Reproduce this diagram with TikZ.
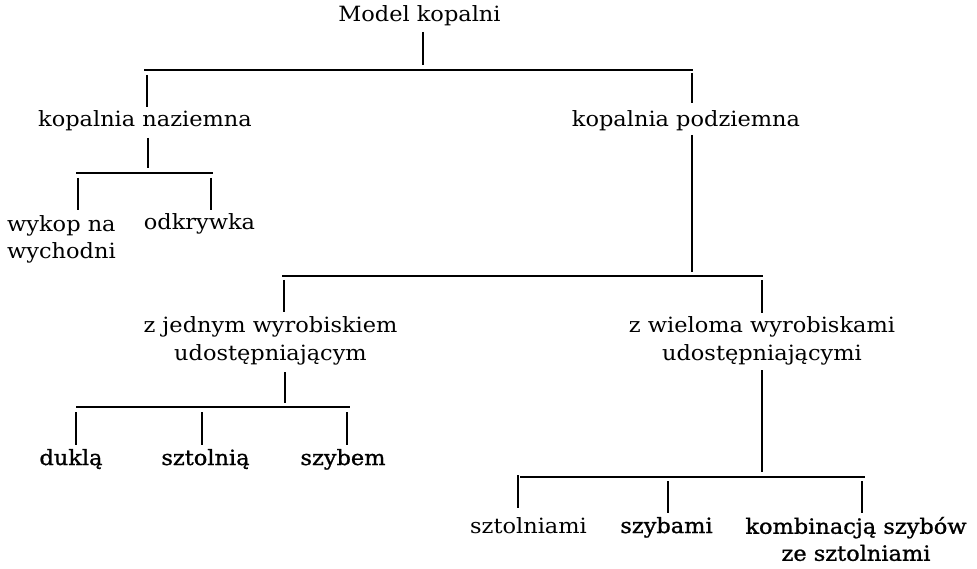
\documentclass[tikz,border=0pt]{standalone}
\usepackage{graphicx}
\usepackage{fontspec}
\setmainfont{DejaVu Serif}
\newfontfamily\heavy[FakeBold=1.0]{DejaVu Serif}
\newcommand\wide[1]{\scalebox{1.07}[1]{#1}}
\begin{document}
\begin{tikzpicture}[x=1pt,y=-1pt,
  lbl/.style={inner sep=0pt, font=\fontsize{21}{28}\selectfont},
  dark/.style={lbl, font=\fontsize{21}{28}\selectfont\heavy},
  link/.style={line width=1.7pt, line cap=butt}]
\useasboundingbox[fill=white] (0,0) rectangle (977,569);

% nodes
\node[lbl, anchor=base] (root) at (419.5,22) {\wide{Model kopalni}};
\node[lbl, anchor=base] (kn) at (145,127) {\wide{kopalnia naziemna}};
\node[lbl, anchor=base] (kp) at (686,127) {\wide{kopalnia podziemna}};
\node[lbl, anchor=west, align=left, font=\fontsize{21}{27}\selectfont] (wn) at (7,239) {\wide{wykop na}\\\wide{wychodni}};
\node[lbl, anchor=base] (od) at (199.5,230) {\wide{odkrywka}};
\node[lbl, align=center, font=\fontsize{21}{28}\selectfont] (zj) at (270.5,341) {\wide{z jednym wyrobiskiem}\\\wide{udostępniającym}};
\node[lbl, align=center, font=\fontsize{21}{28}\selectfont] (zw) at (762,341) {\wide{z wieloma wyrobiskami}\\\wide{udostępniającymi}};
\node[dark, anchor=base] (dk) at (71,465) {\wide{duklą}};
\node[dark, anchor=base] (sn) at (205.5,465) {\wide{sztolnią}};
\node[dark, anchor=base] (sb) at (343,465) {\wide{szybem}};
\node[lbl, anchor=base] (szn) at (528.5,533) {\wide{sztolniami}};
\node[dark, anchor=base] (szb) at (666.5,533) {\wide{szybami}};
\node[dark, align=center, font=\fontsize{21}{27}\selectfont\heavy] (kom) at (856,539) {\wide{kombinacją szybów}\\\wide{ze sztolniami}};

% connector points
\coordinate (r-out) at (423,32);
\coordinate (b1-mid) at (423,65);
\coordinate (b1-l) at (144,70);
\coordinate (b1-r) at (693,70);
\coordinate (kn-in0) at (147,75);
\coordinate (kn-in) at (147,107);
\coordinate (kp-in0) at (692,73);
\coordinate (kp-in) at (692,103);

\coordinate (kn-out) at (148,138);
\coordinate (b2-mid) at (148,168);
\coordinate (b2-l) at (76,173);
\coordinate (b2-r) at (213,173);
\coordinate (wn-in0) at (78,178);
\coordinate (wn-in) at (78,210);
\coordinate (od-in0) at (211,178);
\coordinate (od-in) at (211,210);

\coordinate (kp-out) at (692,135);
\coordinate (b3-mid) at (692,272);
\coordinate (b3-l) at (282,276);
\coordinate (b3-r) at (763,276);
\coordinate (zj-in0) at (284,280);
\coordinate (zj-in) at (284,312);
\coordinate (zw-in0) at (762,280);
\coordinate (zw-in) at (762,313);

\coordinate (zj-out) at (285,372);
\coordinate (b4-mid) at (285,403);
\coordinate (b4-l) at (76,407);
\coordinate (b4-r) at (350,407);
\coordinate (dk-in0) at (76,412);
\coordinate (dk-in) at (76,445);
\coordinate (sn-in0) at (202,412);
\coordinate (sn-in) at (202,445);
\coordinate (sb-in0) at (347,412);
\coordinate (sb-in) at (347,445);

\coordinate (zw-out) at (762,370);
\coordinate (b5-mid) at (762,472);
\coordinate (b5-l) at (520,477);
\coordinate (b5-r) at (865,477);
\coordinate (szn-in0) at (518,475);
\coordinate (szn-in) at (518,508);
\coordinate (szb-in0) at (668,481);
\coordinate (szb-in) at (668,513);
\coordinate (kom-in0) at (862,481);
\coordinate (kom-in) at (862,513);

% connectors
\draw[link] (r-out) -- (b1-mid);
\draw[link] (b1-l) -- (b1-r);
\draw[link] (kn-in0) -- (kn-in);
\draw[link] (kp-in0) -- (kp-in);

\draw[link] (kn-out) -- (b2-mid);
\draw[link] (b2-l) -- (b2-r);
\draw[link] (wn-in0) -- (wn-in);
\draw[link] (od-in0) -- (od-in);

\draw[link] (kp-out) -- (b3-mid);
\draw[link] (b3-l) -- (b3-r);
\draw[link] (zj-in0) -- (zj-in);
\draw[link] (zw-in0) -- (zw-in);

\draw[link] (zj-out) -- (b4-mid);
\draw[link] (b4-l) -- (b4-r);
\draw[link] (dk-in0) -- (dk-in);
\draw[link] (sn-in0) -- (sn-in);
\draw[link] (sb-in0) -- (sb-in);

\draw[link] (zw-out) -- (b5-mid);
\draw[link] (b5-l) -- (b5-r);
\draw[link] (szn-in0) -- (szn-in);
\draw[link] (szb-in0) -- (szb-in);
\draw[link] (kom-in0) -- (kom-in);
\end{tikzpicture}
\end{document}
